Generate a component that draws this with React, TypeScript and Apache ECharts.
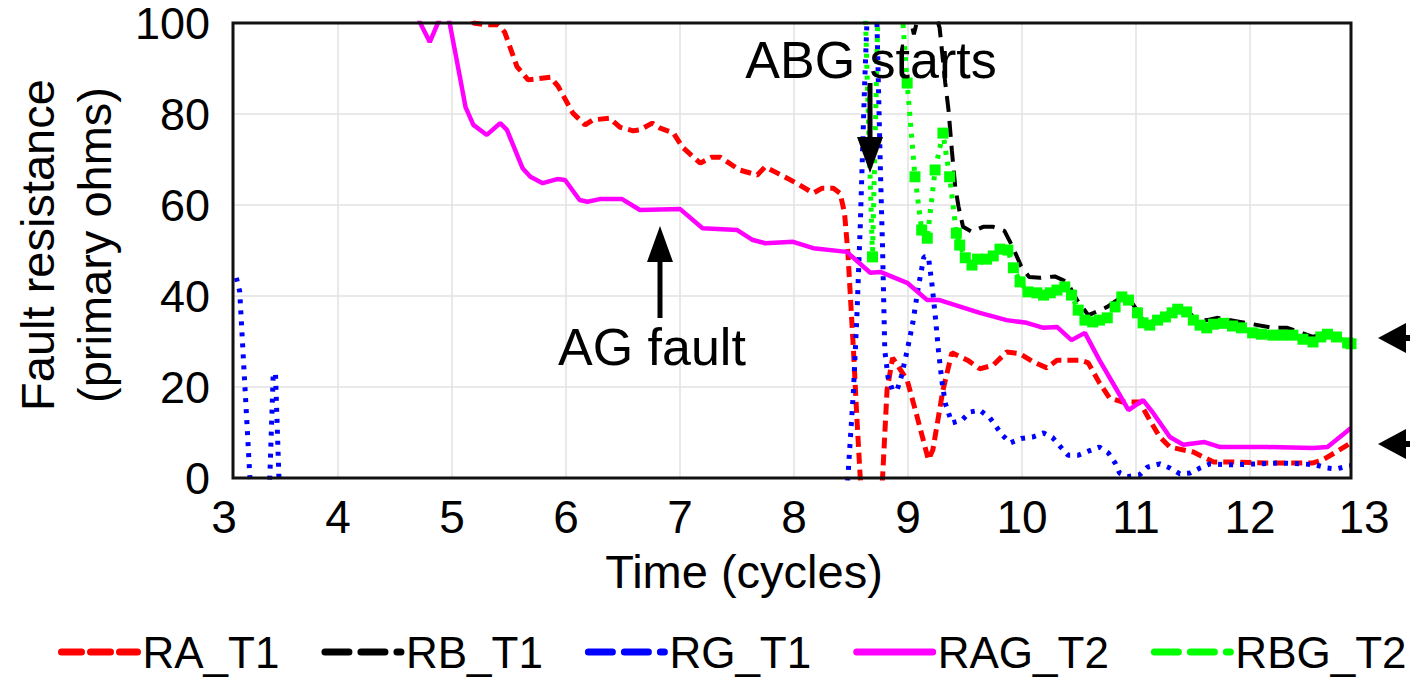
import React, { useEffect, useRef } from 'react';
import * as echarts from 'echarts';

const FONT = '"Liberation Sans", Arial, Helvetica, sans-serif';

const seriesNames = ['RA_T1', 'RB_T1', 'RG_T1', 'RAG_T2', 'RBG_T2'];
const xTickValues = [3, 4, 5, 6, 7, 8, 9, 10, 11, 12, 13];
const yTickValues = [0, 20, 40, 60, 80, 100];

// Time (cycles), fault resistance (primary ohms)
const raT1: [number, number][] = [
  [5.10, 104], [5.15, 100], [5.27, 99.6], [5.37, 99.6], [5.43, 98], [5.54, 90.4], [5.64, 87.5],
  [5.84, 88.1], [5.91, 86], [6.04, 80.2], [6.15, 77.6], [6.22, 78.7], [6.37, 79.1], [6.46, 77.1],
  [6.58, 76.3], [6.64, 76.5], [6.75, 78], [6.82, 76.9], [6.94, 75.8], [7.02, 72.7], [7.18, 69.2],
  [7.28, 70.5], [7.36, 70.5], [7.53, 67.7], [7.69, 66.6], [7.76, 68.4], [7.87, 67], [8.04, 64.8],
  [8.19, 62.6], [8.27, 63.7], [8.37, 63.7], [8.43, 62.6], [8.47, 58.2], [8.50, 49.5], [8.55, 28],
  [8.58, 13.4], [8.61, 0.2], [8.66, -15], [8.77, -15], [8.81, 0], [8.85, 19.3], [8.90, 26.4],
  [9.03, 21.5], [9.12, 13.4], [9.22, 4], [9.26, 6.2], [9.35, 19.3], [9.43, 27.5], [9.57, 25.9],
  [9.68, 24], [9.80, 24.8], [9.92, 27.7], [10.04, 27.3], [10.16, 25.5], [10.28, 24.2], [10.37, 25.9],
  [10.58, 25.9], [10.65, 25.3], [10.75, 20.9], [10.84, 17.6], [10.96, 16.7], [11.11, 16.7],
  [11.20, 12.7], [11.29, 9], [11.38, 6.8], [11.59, 5.7], [11.77, 3.5], [11.94, 3.5], [12.25, 3.3],
  [12.66, 3.3], [12.75, 4], [13.0, 7.7],
];

const rbT1: [number, number][] = [
  [8.95, 115], [9.06, 101], [9.09, 97.5], [9.13, 101.5], [9.28, 102], [9.32, 99], [9.37, 87],
  [9.40, 80.9], [9.43, 72], [9.46, 64], [9.49, 59.6], [9.53, 55.2], [9.61, 54.1], [9.71, 55.2],
  [9.80, 55.2], [9.90, 54.3], [9.97, 51], [10.05, 46.5], [10.12, 44.2], [10.22, 44.0], [10.35, 44.3],
  [10.46, 43.1], [10.55, 39.1], [10.65, 35.8], [10.70, 36.3], [10.82, 37.6], [10.92, 39.3],
  [11.01, 39.5], [11.09, 36.8], [11.14, 34.6], [11.20, 34.1], [11.34, 35.9], [11.45, 37.5],
  [11.53, 37], [11.62, 34.5], [11.71, 34.7], [11.80, 35.2], [12.01, 34.3], [12.30, 33], [12.43, 33],
  [12.57, 31.8], [12.66, 31], [12.79, 32], [12.97, 30.2], [13.0, 30],
];

const rgT1: [number, number][] = [
  [3.03, 44], [3.06, 41], [3.15, 0.6], [3.20, -12], [3.29, -12], [3.33, 0.6], [3.36, 23], [3.38, 23],
  [3.41, 0.6], [3.45, -12], [8.46, -12], [8.50, 0.2], [8.55, 19.3], [8.58, 35.4], [8.61, 55],
  [8.65, 86.8], [8.67, 100], [8.70, 118], [8.74, 118], [8.76, 100], [8.79, 68.4], [8.81, 50.5],
  [8.83, 28], [8.86, 22], [8.90, 19.3], [8.94, 19.3], [8.98, 22.5], [9.03, 28], [9.08, 34],
  [9.13, 42], [9.18, 48.6], [9.22, 48.6], [9.25, 43], [9.28, 36], [9.31, 28], [9.34, 21.5],
  [9.37, 16.5], [9.43, 12.1], [9.52, 12.7], [9.59, 14.5], [9.68, 14.9], [9.77, 13.2], [9.88, 9.5],
  [9.95, 7.7], [10.05, 8.7], [10.15, 9], [10.25, 9.9], [10.33, 8.9], [10.40, 6.9], [10.47, 5],
  [10.56, 5], [10.65, 5.9], [10.75, 6.8], [10.83, 5.5], [10.89, 3.3], [10.93, 1.1], [11.0, 0.3],
  [11.11, 0.7], [11.18, 2.4], [11.29, 3.1], [11.38, 2.2], [11.47, 0.9], [11.56, 1.1], [11.65, 2.2],
  [11.74, 3.1], [11.94, 2.9], [12.16, 3.1], [12.36, 3.3], [12.57, 3.1], [12.68, 2.9], [12.79, 2.2],
  [12.87, 2.0], [12.97, 2.6], [13.0, 2.7],
];

const ragT2: [number, number][] = [
  [4.62, 106], [4.67, 100.2], [4.76, 95.8], [4.85, 101], [4.89, 104], [4.93, 101], [5.03, 88.1],
  [5.08, 81.5], [5.15, 77.6], [5.27, 75.4], [5.39, 78.0], [5.45, 76.5], [5.59, 68.1], [5.66, 66.2],
  [5.77, 64.8], [5.90, 65.7], [5.97, 65.5], [6.10, 61.1], [6.17, 60.7], [6.28, 61.3], [6.48, 61.3],
  [6.64, 58.9], [7.00, 59.1], [7.20, 54.9], [7.51, 54.5], [7.65, 52.3], [7.76, 51.6], [8.01, 51.9],
  [8.19, 50.5], [8.49, 49.7], [8.70, 45.1], [8.79, 45.3], [9.03, 42.9], [9.21, 39.1], [9.32, 39.1],
  [9.68, 36.3], [9.92, 34.7], [10.10, 34.1], [10.25, 33.0], [10.37, 33.2], [10.50, 30.3],
  [10.62, 31.9], [10.75, 25.9], [10.89, 20.0], [11.01, 14.9], [11.14, 17.1], [11.23, 14.3],
  [11.38, 9.0], [11.50, 7.3], [11.69, 7.9], [11.83, 6.8], [12.25, 6.8], [12.66, 6.6], [12.79, 6.8],
  [13.0, 11.0],
];

const rbgT2: [number, number][] = [
  [8.64, 115], [8.72, 48.6], [8.78, 115], [8.95, 115], [9.03, 86.8], [9.10, 66.2], [9.16, 54.5],
  [9.21, 52.7], [9.28, 67.7], [9.35, 75.8], [9.41, 66.2], [9.47, 53.8], [9.50, 51.2], [9.55, 48.4],
  [9.61, 46.8], [9.66, 48.1], [9.74, 48.1], [9.80, 48.8], [9.86, 50.3], [9.93, 50.1], [9.98, 46.2],
  [10.04, 43.1], [10.11, 40.9], [10.19, 40.7], [10.25, 40.2], [10.31, 40.7], [10.37, 41.3],
  [10.44, 42], [10.50, 40.2], [10.56, 36.9], [10.62, 34.7], [10.69, 34.3], [10.75, 34.7],
  [10.82, 35.2], [10.89, 37.6], [10.95, 39.8], [11.01, 39.1], [11.09, 36.3], [11.14, 34.1],
  [11.20, 33.6], [11.27, 34.7], [11.34, 35.4], [11.40, 36.3], [11.45, 37.1], [11.53, 36.5],
  [11.59, 34.7], [11.65, 33.6], [11.71, 33.0], [11.77, 33.8], [11.86, 34.0], [11.94, 33.4],
  [12.02, 33.0], [12.12, 31.9], [12.20, 31.6], [12.30, 31.4], [12.39, 31.4], [12.48, 31.4],
  [12.57, 30.5], [12.66, 29.9], [12.73, 31.0], [12.79, 31.6], [12.87, 31.0], [12.97, 29.7],
  [13.0, 29.5],
];

const annotationTexts = ['ABG starts', 'AG fault'];

export default function App() {
  const ref = useRef<HTMLDivElement>(null);
  useEffect(() => {
    if (!ref.current) return;
    const chart = echarts.init(ref.current, undefined, { renderer: 'svg' });
    const gridColor = '#e2e2e2';
    const option: any = {
      animation: false,
      backgroundColor: '#ffffff',
      textStyle: { fontFamily: FONT },
      grid: [
        { left: 224, top: 23, width: 1140, height: 455, show: false },
        { left: 233, top: 23, width: 1118, height: 455, show: true, borderColor: '#111111', borderWidth: 3, backgroundColor: 'transparent', z: 3 },
      ],
      xAxis: [
        {
          gridIndex: 0, type: 'value', min: xTickValues[0], max: xTickValues[xTickValues.length - 1], interval: 1,
          axisLine: { show: false }, axisTick: { show: false },
          splitLine: { show: true, showMinLine: false, showMaxLine: false, lineStyle: { color: gridColor, width: 1.5 } },
          axisLabel: { fontSize: 46, color: '#000', margin: 16, fontFamily: FONT },
        },
        {
          gridIndex: 1, type: 'value', min: 3, max: 13, show: false,
          splitLine: { show: false },
        },
      ],
      yAxis: [
        { gridIndex: 0, type: 'value', min: 0, max: 100, show: false, splitLine: { show: false } },
        {
          gridIndex: 1, type: 'value', min: yTickValues[0], max: yTickValues[yTickValues.length - 1], interval: 20,
          axisLine: { show: false }, axisTick: { show: false },
          splitLine: { show: true, lineStyle: { color: gridColor, width: 1.5 } },
          axisLabel: { fontSize: 45, lineHeight: 36, padding: [6, 0, 0, 0], color: '#000', margin: 23, fontFamily: FONT },
        },
      ],
      legend: {
        left: 58, top: 630, padding: 0, itemWidth: 76, itemHeight: 14, itemGap: 42,
        textStyle: { fontSize: 44, color: '#000', fontFamily: FONT },
        itemStyle: { opacity: 0 },
        data: [
          { name: seriesNames[0], lineStyle: { type: [20, 9], width: 7, cap: 'round', color: '#ff0000' } },
          { name: seriesNames[1], lineStyle: { type: [24, 12], width: 7, cap: 'round', color: '#000000' } },
          { name: seriesNames[2], lineStyle: { type: [24, 12], width: 7, cap: 'round', color: '#0000ff' } },
          { name: seriesNames[3], lineStyle: { type: 'solid', width: 7, cap: 'round', color: '#ff00ff' } },
          { name: seriesNames[4], lineStyle: { type: [24, 12], width: 7, cap: 'round', color: '#00ff00' } },
        ],
      },
      series: [
        {
          name: seriesNames[0], type: 'line', xAxisIndex: 1, yAxisIndex: 1, data: raT1, showSymbol: false,
          symbol: 'none', color: '#ff0000', lineStyle: { color: '#ff0000', width: 5, type: [11, 6] }, z: 2,
        },
        {
          name: seriesNames[1], type: 'line', xAxisIndex: 1, yAxisIndex: 1, data: rbT1, showSymbol: false,
          symbol: 'none', color: '#000000', lineStyle: { color: '#000000', width: 4, type: [16, 9] }, z: 2,
        },
        {
          name: seriesNames[2], type: 'line', xAxisIndex: 1, yAxisIndex: 1, data: rgT1, showSymbol: false,
          symbol: 'none', color: '#0000ff', lineStyle: { color: '#0000ff', width: 5, type: [4, 7] }, z: 2,
        },
        {
          name: seriesNames[3], type: 'line', xAxisIndex: 1, yAxisIndex: 1, data: ragT2, showSymbol: false,
          symbol: 'none', color: '#ff00ff', lineStyle: { color: '#ff00ff', width: 4.5, type: 'solid' }, z: 2,
        },
        {
          name: seriesNames[4], type: 'line', xAxisIndex: 1, yAxisIndex: 1, data: rbgT2, showSymbol: true,
          symbol: 'rect', symbolSize: 11, color: '#00ff00',
          itemStyle: { color: '#00ff00' },
          lineStyle: { color: '#00ff00', width: 5, type: [4, 7] }, z: 2,
        },
      ],
      graphic: [
        {
          type: 'text', x: 871, y: 60, z: 10,
          style: { text: annotationTexts[0], fontSize: 52, fontFamily: FONT, fill: '#000', align: 'center', verticalAlign: 'middle' },
        },
        { type: 'rect', z: 10, shape: { x: 867.5, y: 83, width: 5, height: 58 }, style: { fill: '#000' } },
        { type: 'polygon', z: 10, shape: { points: [[857, 137], [883, 137], [870, 173]] }, style: { fill: '#000' } },
        {
          type: 'text', x: 558, y: 347, z: 10,
          style: { text: annotationTexts[1], fontSize: 52, fontFamily: FONT, fill: '#000', align: 'left', verticalAlign: 'middle' },
        },
        { type: 'rect', z: 10, shape: { x: 657.5, y: 256, width: 5, height: 62 }, style: { fill: '#000' } },
        { type: 'polygon', z: 10, shape: { points: [[647, 262], [673, 262], [660, 226]] }, style: { fill: '#000' } },
        { type: 'polygon', z: 10, shape: { points: [[1378, 338], [1406, 323], [1406, 353]] }, style: { fill: '#000' } },
        { type: 'rect', z: 10, shape: { x: 1402, y: 335, width: 8, height: 6 }, style: { fill: '#000' } },
        { type: 'polygon', z: 10, shape: { points: [[1378, 444], [1406, 429], [1406, 459]] }, style: { fill: '#000' } },
        { type: 'rect', z: 10, shape: { x: 1402, y: 441, width: 8, height: 6 }, style: { fill: '#000' } },
        {
          type: 'text', x: 744, y: 571, z: 10,
          style: { text: 'Time (cycles)', fontSize: 47, fontFamily: FONT, fill: '#000', align: 'center', verticalAlign: 'middle' },
        },
        {
          type: 'text', x: 66, y: 245, rotation: Math.PI / 2, z: 10,
          style: { text: 'Fault resistance\n(primary ohms)', fontSize: 47, lineHeight: 57, fontFamily: FONT, fill: '#000', align: 'center', verticalAlign: 'middle' },
        },
      ],
    };
    chart.setOption(option);
    return () => chart.dispose();
  }, []);
  return <div ref={ref} style={{ position: 'absolute', left: 0, top: 0, width: 1410, height: 681 }} />;
}
